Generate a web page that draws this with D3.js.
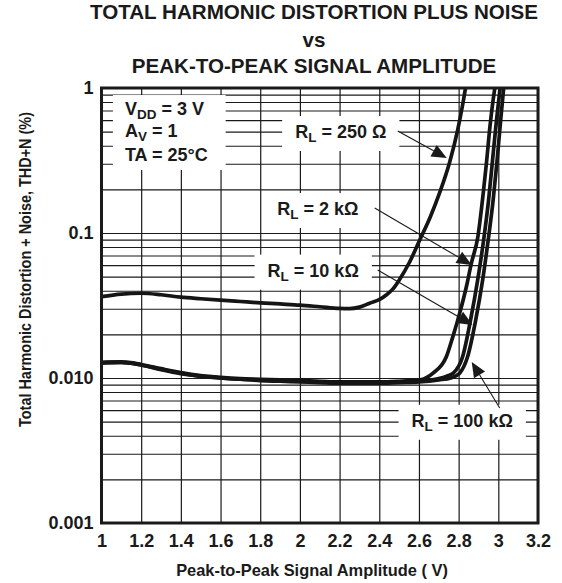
<!DOCTYPE html>
<html><head><meta charset="utf-8">
<script src="https://cdn.jsdelivr.net/npm/d3@7"></script>
<style>
body{margin:0;background:#fff}
svg{display:block}
text{font-family:"Liberation Sans",Arial,Helvetica,sans-serif;font-weight:bold;fill:#1a1a1a}
</style>
</head><body>
<svg id="c" width="562" height="583"></svg>
<script>
// ---------- data ----------
const titleLines = ["TOTAL HARMONIC DISTORTION PLUS NOISE", "vs", "PEAK-TO-PEAK SIGNAL AMPLITUDE"];
const xTitle = "Peak-to-Peak Signal Amplitude ( V)";
const yTitle = "Total Harmonic Distortion + Noise, THD+N (%)";
const xTicks = [1, 1.2, 1.4, 1.6, 1.8, 2, 2.2, 2.4, 2.6, 2.8, 3, 3.2];
const xTickLabels = ["1", "1.2", "1.4", "1.6", "1.8", "2", "2.2", "2.4", "2.6", "2.8", "3", "3.2"];
const yTicks = [1, 0.1, 0.01, 0.001];
const yTickLabels = ["1", "0.1", "0.010", "0.001"];

const rl250X = [1.0,1.1,1.2,1.3,1.4,1.5,1.6,1.7,1.8,1.9,2.0,2.1,2.2,2.25,2.3,2.352,2.402,2.435,2.468,2.503,2.553,2.604,2.657,2.704,2.755,2.795,2.820,2.835,2.845];
const rl250Y = [0.0364,0.0379,0.0384,0.0375,0.0361,0.0352,0.0344,0.0337,0.0330,0.0324,0.0318,0.0310,0.0302,0.0301,0.0308,0.0328,0.0348,0.0374,0.0410,0.0480,0.0631,0.0895,0.129,0.189,0.309,0.513,0.763,1.0,1.17];

const rl2kX = [1.0,1.1,1.2,1.3,1.4,1.5,1.6,1.7,1.8,1.9,2.0,2.1,2.2,2.3,2.4,2.5,2.604,2.671,2.738,2.771,2.805,2.839,2.864,2.897,2.922,2.940,2.956,2.981,2.991];
const rl2kY = [0.0128,0.0129,0.0124,0.0116,0.0109,0.0104,0.0101,0.0099,0.0098,0.0097,0.0096,0.0095,0.0094,0.0094,0.0094,0.0095,0.0097,0.0108,0.0140,0.0193,0.0279,0.0426,0.0618,0.0943,0.178,0.302,0.513,0.969,1.17];

const rl10kX = [1.0,1.1,1.2,1.3,1.4,1.5,1.6,1.7,1.8,1.9,2.0,2.1,2.2,2.3,2.4,2.5,2.6,2.7,2.74,2.773,2.820,2.860,2.896,2.926,2.951,2.971,2.991,3.009,3.017];
const rl10kY = [0.0127,0.0128,0.0123,0.0115,0.0108,0.0103,0.0100,0.0098,0.0097,0.0096,0.0095,0.0094,0.0093,0.0093,0.0093,0.0094,0.0095,0.0099,0.0103,0.0108,0.0140,0.0251,0.0474,0.0895,0.169,0.319,0.602,1.0,1.23];

const rl100kX = [1.0,1.1,1.2,1.3,1.4,1.5,1.6,1.7,1.8,1.9,2.0,2.1,2.2,2.3,2.4,2.5,2.6,2.7,2.76,2.805,2.845,2.886,2.921,2.949,2.974,2.994,3.012,3.027,3.034];
const rl100kY = [0.0127,0.0128,0.0123,0.0114,0.0107,0.0103,0.0100,0.0098,0.0096,0.0095,0.0094,0.0093,0.0092,0.0092,0.0092,0.0093,0.0094,0.0097,0.0100,0.0108,0.0140,0.0251,0.0474,0.0895,0.169,0.319,0.602,1.0,1.23];

const condLines = [["V","DD"," = 3 V"],["A","V"," = 1"],["TA = 25°C","",""]];
const condX = 1.118;
const condY = [0.651, 0.456, 0.3137];

const annValues = ["250 Ω", "2 kΩ", "10 kΩ", "100 kΩ"];
const annTextX = [2.206, 2.090, 2.067, 2.818];
const annTextY = [0.452, 0.133, 0.0500, 0.00461];
const arrowFromX = [2.493, 2.377, 2.392, 3.007];
const arrowFromY = [0.505, 0.1487, 0.0556, 0.00621];
const arrowToX = [2.740, 2.866, 2.871, 2.866];
const arrowToY = [0.329, 0.0602, 0.0232, 0.01289];

// ---------- layout ----------
const svg = d3.select("#c");
const L = 101.5, R = 538, T = 88, B = 523;
const x = d3.scaleLinear().domain([1, 3.2]).range([L, R]);
const y = d3.scaleLog().domain([0.001, 1]).range([B, T]);
const ink = "#1a1a1a";

// title
svg.append("g").selectAll("text").data(titleLines).join("text")
  .attr("x", 314).attr("y", (d, i) => [19, 46.5, 73][i])
  .attr("text-anchor", "middle").style("font-size", "20.6px").text(d => d);

// grid
const grid = svg.append("g");
grid.append("g").attr("transform", `translate(0,${B})`)
  .call(d3.axisBottom(x).tickValues(xTicks).tickSize(-(B - T)).tickFormat(""))
  .call(g => g.select(".domain").remove())
  .call(g => g.selectAll("line").attr("stroke", ink).attr("stroke-width", 1.2));
grid.append("g").attr("transform", `translate(${L},0)`)
  .call(d3.axisLeft(y).tickValues(y.ticks()).tickSize(-(R - L)).tickFormat(""))
  .call(g => g.select(".domain").remove())
  .call(g => g.selectAll("line").attr("stroke", ink).attr("stroke-width", 1.1));

// annotation boxes & texts
const annG = svg.append("g");
function boxed(textSel, padL, padR, padT, padB) {
  const bb = textSel.node().getBBox();
  annG.insert("rect", ":first-child")
    .attr("x", bb.x - padL).attr("y", bb.y - padT)
    .attr("width", bb.width + padL + padR).attr("height", bb.height + padT + padB)
    .attr("fill", "#fff");
}
const textG = svg.append("g");
// conditions
const condG = textG.append("g");
condLines.forEach((parts, i) => {
  const t = condG.append("text").attr("x", x(condX)).attr("y", y(condY[i])).style("font-size", "18px");
  t.append("tspan").text(parts[0]);
  if (parts[1]) {
    t.append("tspan").attr("dy", 4).style("font-size", "13.5px").text(parts[1]);
    t.append("tspan").attr("dy", -4).text(parts[2]);
  }
});
{
  const bb = condG.node().getBBox();
  annG.append("rect").attr("x", bb.x - 12).attr("y", bb.y - 4)
    .attr("width", bb.width + 30).attr("height", bb.height + 9).attr("fill", "#fff");
}
annValues.forEach((v, i) => {
  const t = textG.append("text").attr("x", x(annTextX[i])).attr("y", y(annTextY[i]))
    .attr("text-anchor", "middle").style("font-size", "18px");
  t.append("tspan").text("R");
  t.append("tspan").attr("dy", 4).style("font-size", "13.5px").text("L");
  t.append("tspan").attr("dy", -4).text(" = " + v);
  boxed(t, 13, 13, 6, 6);
});

// curves
const line = d3.line().x(d => x(d[0])).y(d => y(d[1])).curve(d3.curveMonotoneX);
svg.append("clipPath").attr("id", "clip").append("rect")
  .attr("x", L).attr("y", T).attr("width", R - L).attr("height", B - T);
const series = [[rl250X, rl250Y], [rl2kX, rl2kY], [rl10kX, rl10kY], [rl100kX, rl100kY]];
const curveG = svg.append("g").attr("clip-path", "url(#clip)");
series.forEach(([xs, ys]) => {
  curveG.append("path").datum(xs.map((d, i) => [d, ys[i]]))
    .attr("d", line).attr("fill", "none").attr("stroke", "#151515")
    .attr("stroke-width", 3.7).attr("stroke-linejoin", "round");
});

// arrows
const arrowG = svg.append("g");
annValues.forEach((v, i) => {
  const x0 = x(arrowFromX[i]), y0 = y(arrowFromY[i]);
  const x1 = x(arrowToX[i]), y1 = y(arrowToY[i]);
  const ang = Math.atan2(y1 - y0, x1 - x0);
  const len = 15, hw = 6.5;
  const bx = x1 - len * Math.cos(ang), by = y1 - len * Math.sin(ang);
  arrowG.append("line").attr("x1", x0).attr("y1", y0).attr("x2", bx).attr("y2", by)
    .attr("stroke", ink).attr("stroke-width", 1.1);
  arrowG.append("path")
    .attr("d", `M${x1},${y1}L${bx + hw * Math.sin(ang)},${by - hw * Math.cos(ang)}L${bx - hw * Math.sin(ang)},${by + hw * Math.cos(ang)}Z`)
    .attr("fill", ink);
});
textG.raise();

// frame
svg.append("rect").attr("x", L).attr("y", T).attr("width", R - L).attr("height", B - T)
  .attr("fill", "none").attr("stroke", ink).attr("stroke-width", 3);

// axes labels
svg.append("g").attr("transform", `translate(0,${B + 24})`)
  .call(d3.axisBottom(x).tickValues(xTicks).tickFormat((d, i) => xTickLabels[i]).tickSize(0).tickPadding(0))
  .call(g => g.select(".domain").remove())
  .call(g => g.selectAll("text").attr("dy", 0).attr("fill", ink).style("font-size", "18px")
    .style("font-family", '"Liberation Sans",Arial,sans-serif').style("font-weight", "bold"));
svg.append("g").attr("transform", `translate(${L - 8},0)`)
  .call(d3.axisLeft(y).tickValues(yTicks).tickFormat((d, i) => yTickLabels[i]).tickSize(0).tickPadding(0))
  .call(g => g.select(".domain").remove())
  .call(g => g.selectAll("text").attr("fill", ink).style("font-size", "18px")
    .style("font-family", '"Liberation Sans",Arial,sans-serif').style("font-weight", "bold"));

svg.append("text").attr("x", 312).attr("y", 576).attr("text-anchor", "middle")
  .style("font-size", "16.4px").text(xTitle);
svg.append("text").attr("transform", "translate(31,269.5) rotate(-90)").attr("text-anchor", "middle")
  .attr("textLength", 315).attr("lengthAdjust", "spacingAndGlyphs")
  .style("font-size", "16.5px").text(yTitle);
</script>
</body></html>
